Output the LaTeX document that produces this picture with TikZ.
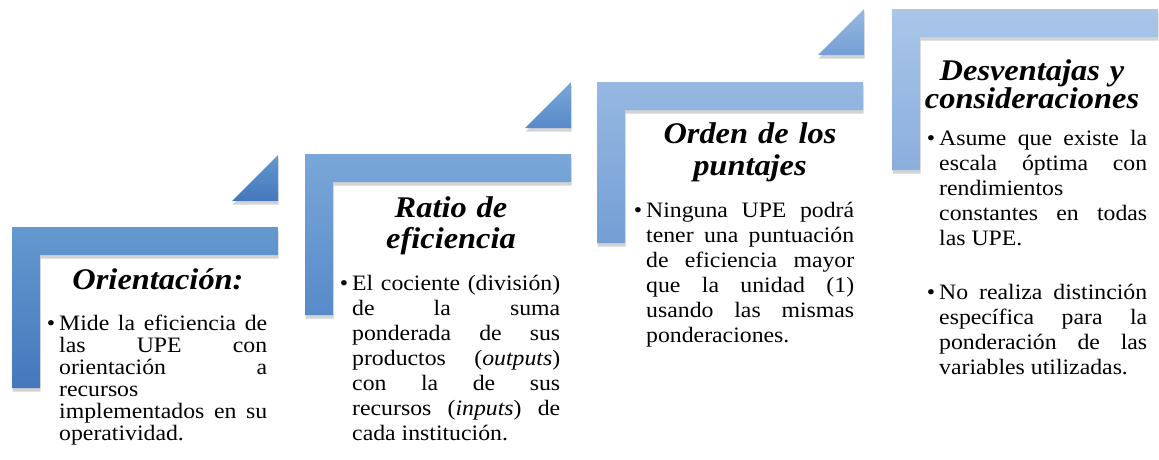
\documentclass[tikz,border=0pt]{standalone}
\usepackage{fontspec}
\setmainfont{Liberation Serif}[FakeStretch=1.08]
\usetikzlibrary{shadows}

\definecolor{stepA}{RGB}{68,120,188}
\definecolor{stepAl}{RGB}{100,152,207}
\definecolor{stepB}{RGB}{88,138,201}
\definecolor{stepBl}{RGB}{122,167,216}
\definecolor{stepC}{RGB}{116,158,212}
\definecolor{stepCl}{RGB}{150,185,226}
\definecolor{stepD}{RGB}{138,174,221}
\definecolor{stepDl}{RGB}{170,198,233}

\tikzset{
	stepshape/.style={drop shadow={shadow xshift=0.5pt, shadow yshift=-3.5pt, opacity=0.35}},
	steptitle/.style={anchor=base, text width=260pt, align=center, inner sep=0pt,
		font=\fontsize{30}{31}\selectfont\bfseries\itshape},
	stepbody/.style={anchor=base west, text width=208pt, align=justify, inner sep=0pt,
		font=\fontsize{22}{25}\selectfont},
}
\newcommand{\bul}{\leavevmode\llap{\textbullet\hspace{4pt}}}

\begin{document}
\begin{tikzpicture}[x=1pt, y=-1pt]
	\useasboundingbox (0,0) rectangle (1159,459);

	% step shapes
	\path[stepshape, top color=stepAl, bottom color=stepA] (12,227) -- ++(266,0) -- ++(0,28) -- ++(-238,0) -- ++(0,133) -- ++(-28,0) -- cycle;
	\path[stepshape, top color=stepAl, bottom color=stepA] (232,201) -- (278,201) -- (278,155) -- cycle;

	\path[stepshape, top color=stepBl, bottom color=stepB] (305,154) -- ++(266,0) -- ++(0,28) -- ++(-238,0) -- ++(0,133) -- ++(-28,0) -- cycle;
	\path[stepshape, top color=stepBl, bottom color=stepB] (525,128) -- (571,128) -- (571,82) -- cycle;

	\path[stepshape, top color=stepCl, bottom color=stepC] (597,82) -- ++(266,0) -- ++(0,28) -- ++(-238,0) -- ++(0,133) -- ++(-28,0) -- cycle;
	\path[stepshape, top color=stepCl, bottom color=stepC] (818,55) -- (864,55) -- (864,9) -- cycle;

	\path[stepshape, top color=stepDl, bottom color=stepD] (892,9) -- ++(266,0) -- ++(0,28) -- ++(-238,0) -- ++(0,133) -- ++(-28,0) -- cycle;

	% titles
	\node[steptitle] (orient) at (158,289) {Orientación:};
	\node[steptitle] (ratio) at (451,217) {Ratio de\\eficiencia};
	\node[steptitle, font=\fontsize{30}{32}\selectfont\bfseries\itshape] (orden) at (750,143) {Orden de los\\puntajes};
	\node[steptitle, font=\fontsize{30}{25}\selectfont\bfseries\itshape] (desv) at (1032,80) {Desventajas y\\consideraciones};

	% texts
	\node[stepbody, font=\fontsize{22}{22}\selectfont] (orienttext) at (59,330)
		{\bul Mide la eficiencia de\linebreak las UPE con\linebreak orientación a\linebreak recursos\linebreak implementados en su\linebreak operatividad.};
	\node[stepbody] (ratiotext) at (352,290)
		{\bul El cociente (división)\linebreak de la suma\linebreak ponderada de sus\linebreak productos (\emph{outputs})\linebreak con la de sus\linebreak recursos (\emph{inputs}) de\linebreak cada institución.};
	\node[stepbody] (ordentext) at (646,217)
		{\bul Ninguna UPE podrá\linebreak tener una puntuación\linebreak de eficiencia mayor\linebreak que la unidad (1)\linebreak usando las mismas\linebreak ponderaciones.};
	\node[stepbody] (desvtext) at (939,145)
		{\bul Asume que existe la\linebreak escala óptima con\linebreak rendimientos\linebreak constantes en todas\linebreak las UPE.\par\vspace{29pt}
		\bul No realiza distinción\linebreak específica para la\linebreak ponderación de las\linebreak variables utilizadas.};
\end{tikzpicture}
\end{document}
